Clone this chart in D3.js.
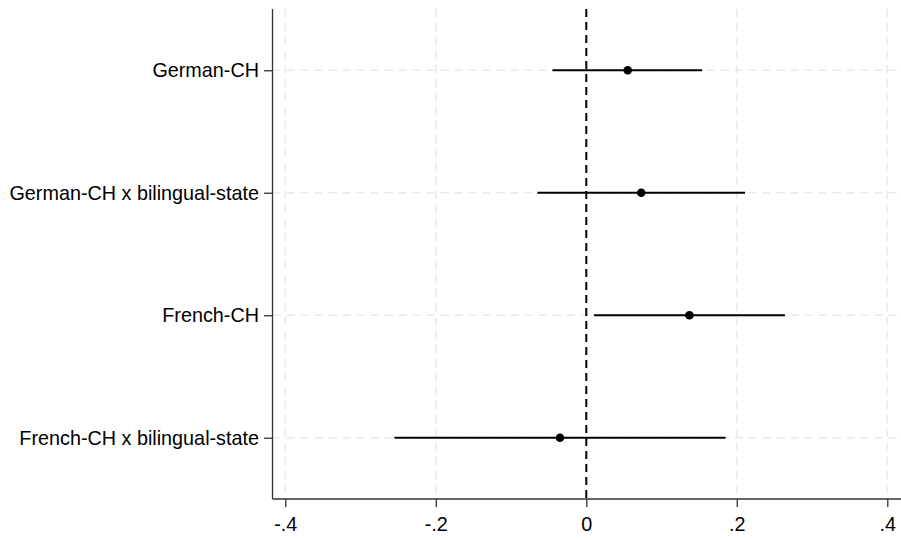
<!DOCTYPE html>
<html>
<head>
<meta charset="utf-8">
<script src="https://cdn.jsdelivr.net/npm/d3@7"></script>
<style>
  body { margin: 0; background: #fff; }
  text { font-family: "Liberation Sans", Arial, sans-serif; fill: #000; }
</style>
</head>
<body>
<div id="container"></div>
<script>
const terms = ["German-CH", "German-CH x bilingual-state", "French-CH", "French-CH x bilingual-state"];
const estimates = [0.055, 0.073, 0.137, -0.035];
const ciLow = [-0.045, -0.065, 0.010, -0.255];
const ciHigh = [0.154, 0.211, 0.264, 0.185];
const xTicks = [-0.4, -0.2, 0, 0.2, 0.4];
const xTickLabels = ["-.4", "-.2", "0", ".2", ".4"];

const width = 901;
const height = 540;
const plotLeft = 272.5, plotRight = 901, plotTop = 9, plotBottom = 499;
const gridcolor = "#e9e9e9"

const rows = terms.map((t, i) => ({term: t, est: estimates[i], lo: ciLow[i], hi: ciHigh[i]}));

const svg = d3.select("#container").append("svg").attr("width", width).attr("height", height);

const x = d3.scaleLinear().domain([-0.4, 0.4]).range([285.3, 887.3]);
const y = d3.scalePoint().domain(terms).range([plotTop, plotBottom]).padding(0.5);

// grid lines
svg.append("g").selectAll("line")
  .data(xTicks.filter(d => d !== 0))
  .enter().append("line")
  .attr("x1", d => x(d)).attr("x2", d => x(d))
  .attr("y1", plotTop).attr("y2", plotBottom)
  .attr("stroke", gridcolor).attr("stroke-width", 1.5)
  .attr("stroke-dasharray", "8,6");

svg.append("g").selectAll("line")
  .data(terms)
  .enter().append("line")
  .attr("x1", plotLeft).attr("x2", plotRight)
  .attr("y1", d => y(d)).attr("y2", d => y(d))
  .attr("stroke", gridcolor).attr("stroke-width", 1.5)
  .attr("stroke-dasharray", "8,6");

// zero reference line
svg.append("line")
  .attr("x1", x(0)).attr("x2", x(0))
  .attr("y1", plotTop).attr("y2", plotBottom)
  .attr("stroke", "#000").attr("stroke-width", 2)
  .attr("stroke-dasharray", "8,5");

// axes
const xAxis = d3.axisBottom(x).tickValues(xTicks)
  .tickFormat((d, i) => xTickLabels[i]).tickSizeOuter(0).tickSize(8).tickPadding(9.5);
const gx = svg.append("g").attr("transform", `translate(0,${plotBottom})`).call(xAxis);
gx.select(".domain").remove();
gx.selectAll(".tick line").attr("stroke", "#333").attr("stroke-width", 1.3);
gx.selectAll("text").style("font-size", "19.8px").attr("fill", "#000");
svg.append("line").attr("x1", plotLeft).attr("x2", plotRight).attr("y1", plotBottom).attr("y2", plotBottom)
  .attr("stroke", "#333").attr("stroke-width", 1.3);

const yAxis = d3.axisLeft(y).tickSizeOuter(0).tickSize(8.5).tickPadding(5);
const gy = svg.append("g").attr("transform", `translate(${plotLeft},0)`).call(yAxis);
gy.select(".domain").remove();
gy.selectAll(".tick line").attr("stroke", "#333").attr("stroke-width", 1.3);
gy.selectAll("text").style("font-size", "19.8px").attr("fill", "#000");
svg.append("line").attr("x1", plotLeft).attr("x2", plotLeft).attr("y1", plotTop).attr("y2", plotBottom)
  .attr("stroke", "#333").attr("stroke-width", 1.3);

// confidence intervals
svg.append("g").selectAll("line")
  .data(rows)
  .enter().append("line")
  .attr("x1", d => x(d.lo)).attr("x2", d => x(d.hi))
  .attr("y1", d => y(d.term)).attr("y2", d => y(d.term))
  .attr("stroke", "#000").attr("stroke-width", 2);

// point estimates
svg.append("g").selectAll("circle")
  .data(rows)
  .enter().append("circle")
  .attr("cx", d => x(d.est)).attr("cy", d => y(d.term))
  .attr("r", 4.3).attr("fill", "#000");
</script>
</body>
</html>
